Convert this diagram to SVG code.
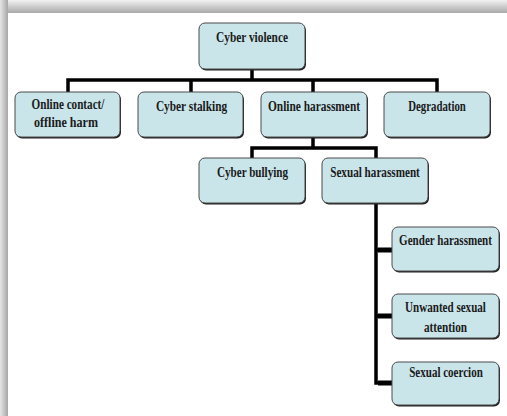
<svg xmlns="http://www.w3.org/2000/svg" width="507" height="416" viewBox="0 0 507 416">
<defs>
<linearGradient id="gTop" x1="0" y1="0" x2="0" y2="1">
<stop offset="0" stop-color="#f2f2f2"/>
<stop offset="1" stop-color="#a9a9a9"/>
</linearGradient>
<linearGradient id="gLeft" x1="0" y1="0" x2="1" y2="0">
<stop offset="0" stop-color="#e6e6e6"/>
<stop offset="1" stop-color="#a6a6a6"/>
</linearGradient>
</defs>
<style>
.box{fill:#c9e5ea;stroke:#4a4a4a;stroke-width:1}
.sh{fill:#1e1e1e}
.t{font-family:"Liberation Serif","Times New Roman",serif;font-weight:bold;font-size:14.5px;fill:#1a1a1a;text-anchor:middle}
.c{fill:none;stroke:#000;stroke-width:3.5;stroke-linecap:square}
</style>
<rect x="0" y="0" width="507" height="416" fill="#ffffff"/>
<rect x="0" y="0" width="507" height="13" fill="url(#gTop)"/>
<rect x="0" y="0" width="8" height="416" fill="url(#gLeft)"/>
<g id="connectors">
<path class="c" d="M252 70V80M68 80H437M68 80V92M191 80V92M313 80V92M437 80V92"/>
<path class="c" d="M313 137V148M252 148H376M252 148V158M376 148V158"/>
<path class="c" d="M376 203V383M376 250H392M376 316H392M376 383H392"/>
<path d="M378 250H392M378 316H392M378 383H392" fill="none" stroke="#000" stroke-width="5"/>
</g>
<g id="cyber-violence"><rect class="sh" x="200" y="24.5" width="106" height="46" rx="6"/><rect class="box" x="199" y="23" width="106" height="46" rx="6"/><text class="t" transform="translate(252 42) scale(0.8 1)" textLength="90" lengthAdjust="spacingAndGlyphs">Cyber violence</text></g>
<g id="online-contact"><rect class="sh" x="16" y="93.5" width="105" height="45" rx="6"/><rect class="box" x="15" y="92" width="105" height="45" rx="6"/><text class="t" transform="translate(68 109) scale(0.8 1)" textLength="91" lengthAdjust="spacingAndGlyphs">Online contact/</text><text class="t" transform="translate(66 127) scale(0.8 1)" textLength="80" lengthAdjust="spacingAndGlyphs">offline harm</text></g>
<g id="cyber-stalking"><rect class="sh" x="139" y="93.5" width="105" height="45" rx="6"/><rect class="box" x="138" y="92" width="105" height="45" rx="6"/><text class="t" transform="translate(191.5 111) scale(0.8 1)" textLength="89" lengthAdjust="spacingAndGlyphs">Cyber stalking</text></g>
<g id="online-harassment"><rect class="sh" x="262" y="93.5" width="106" height="45" rx="6"/><rect class="box" x="261" y="92" width="106" height="45" rx="6"/><text class="t" transform="translate(314 111) scale(0.8 1)" textLength="115" lengthAdjust="spacingAndGlyphs">Online harassment</text></g>
<g id="degradation"><rect class="sh" x="385" y="93.5" width="106" height="45" rx="6"/><rect class="box" x="384" y="92" width="106" height="45" rx="6"/><text class="t" transform="translate(437 111) scale(0.8 1)" textLength="72" lengthAdjust="spacingAndGlyphs">Degradation</text></g>
<g id="cyber-bullying"><rect class="sh" x="200" y="159.5" width="106" height="45" rx="6"/><rect class="box" x="199" y="158" width="106" height="45" rx="6"/><text class="t" transform="translate(252.5 177) scale(0.8 1)" textLength="89" lengthAdjust="spacingAndGlyphs">Cyber bullying</text></g>
<g id="sexual-harassment"><rect class="sh" x="323" y="159.5" width="106" height="45" rx="6"/><rect class="box" x="322" y="158" width="106" height="45" rx="6"/><text class="t" transform="translate(375 177) scale(0.8 1)" textLength="112" lengthAdjust="spacingAndGlyphs">Sexual harassment</text></g>
<g id="gender-harassment"><rect class="sh" x="393" y="228.5" width="107" height="44" rx="6"/><rect class="box" x="392" y="227" width="107" height="44" rx="6"/><text class="t" transform="translate(445.5 245) scale(0.8 1)" textLength="116" lengthAdjust="spacingAndGlyphs">Gender harassment</text></g>
<g id="unwanted-sexual-attention"><rect class="sh" x="393" y="295.5" width="107" height="44" rx="6"/><rect class="box" x="392" y="294" width="107" height="44" rx="6"/><text class="t" transform="translate(445.5 312) scale(0.8 1)" textLength="101" lengthAdjust="spacingAndGlyphs">Unwanted sexual</text><text class="t" transform="translate(445.5 332) scale(0.8 1)" textLength="54" lengthAdjust="spacingAndGlyphs">attention</text></g>
<g id="sexual-coercion"><rect class="sh" x="393" y="363.5" width="107" height="43" rx="6"/><rect class="box" x="392" y="362" width="107" height="43" rx="6"/><text class="t" transform="translate(446 377) scale(0.8 1)" textLength="92" lengthAdjust="spacingAndGlyphs">Sexual coercion</text></g>
</svg>
